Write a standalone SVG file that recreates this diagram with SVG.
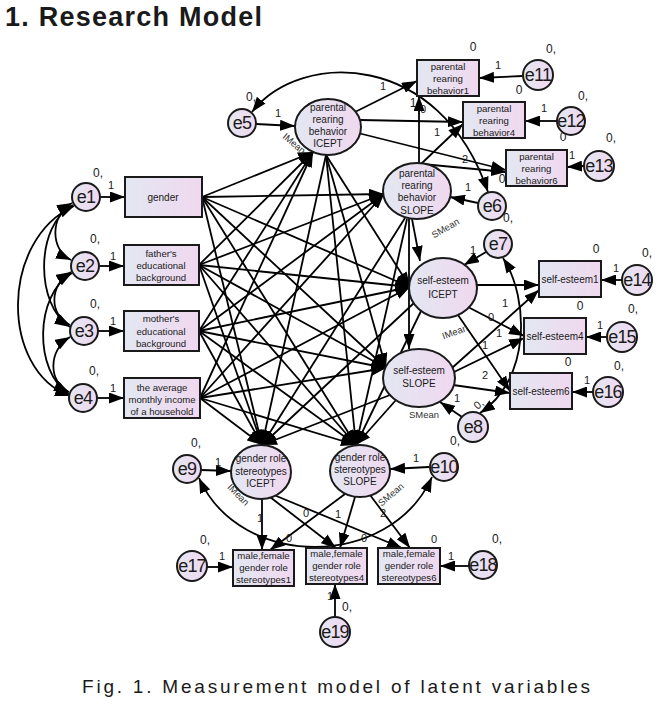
<svg xmlns="http://www.w3.org/2000/svg" width="672" height="704" viewBox="0 0 672 704">
<defs>
<linearGradient id="gf" x1="0" y1="0" x2="1" y2="0"><stop offset="0" stop-color="#e3e7f2"/><stop offset="1" stop-color="#f0d8ef"/></linearGradient>
<marker id="ah" viewBox="0 0 15 11" refX="15" refY="5.5" markerWidth="15" markerHeight="11" orient="auto-start-reverse" markerUnits="userSpaceOnUse"><path d="M0,0L15,5.5L0,11z" fill="#000"/></marker>
</defs>
<style>
text{font-family:"Liberation Sans",Arial,sans-serif;fill:#1a1a1a}
.sh{fill:url(#gf);stroke:#1a1a1a;stroke-width:2}
.c line,.c path{stroke:#000;stroke-width:1.8;fill:none;marker-end:url(#ah)}
.c path.bi{marker-start:url(#ah)}
.et{font-size:18px;text-anchor:middle;letter-spacing:-0.8px}
.nt{font-size:10px;text-anchor:middle}
.bt{font-size:9.6px;text-anchor:middle}
.lb{font-size:11px;text-anchor:middle}
.v{font-size:12px;text-anchor:middle}
.mn{font-size:9.5px;text-anchor:middle;fill:#333}
</style>
<rect width="672" height="704" fill="#fff"/>
<text x="5" y="26" font-size="27" font-weight="bold" textLength="257" lengthAdjust="spacing" fill="#000">1. Research Model</text>

<g id="connectors" class="c">
<!-- exogenous to latent -->
<line x1="202" y1="197" x2="313" y2="152"/><line x1="202" y1="197" x2="384" y2="194"/><line x1="202" y1="197" x2="410" y2="287"/><line x1="202" y1="197" x2="386" y2="368"/><line x1="202" y1="197" x2="262" y2="445"/><line x1="202" y1="197" x2="356" y2="445"/>
<line x1="199" y1="265" x2="313" y2="152"/><line x1="199" y1="265" x2="384" y2="194"/><line x1="199" y1="265" x2="410" y2="287"/><line x1="199" y1="265" x2="386" y2="368"/><line x1="199" y1="265" x2="262" y2="445"/><line x1="199" y1="265" x2="356" y2="445"/>
<line x1="199" y1="331" x2="313" y2="152"/><line x1="199" y1="331" x2="384" y2="194"/><line x1="199" y1="331" x2="410" y2="287"/><line x1="199" y1="331" x2="386" y2="368"/><line x1="199" y1="331" x2="262" y2="445"/><line x1="199" y1="331" x2="356" y2="445"/>
<line x1="200" y1="398" x2="313" y2="152"/><line x1="200" y1="398" x2="384" y2="194"/><line x1="200" y1="398" x2="410" y2="287"/><line x1="200" y1="398" x2="386" y2="368"/><line x1="200" y1="398" x2="262" y2="445"/><line x1="200" y1="398" x2="356" y2="445"/>
<!-- mediators -->
<line x1="326" y1="155" x2="410" y2="287"/><line x1="326" y1="155" x2="386" y2="368"/><line x1="326" y1="155" x2="262" y2="445"/><line x1="326" y1="155" x2="356" y2="445"/>
<line x1="409" y1="219" x2="409" y2="349"/><line x1="412" y1="219" x2="420" y2="261"/><line x1="405" y1="218" x2="262" y2="445"/><line x1="407" y1="219" x2="356" y2="445"/>
<line x1="414" y1="303" x2="262" y2="445"/><line x1="421" y1="311" x2="356" y2="445"/>
<line x1="390" y1="395" x2="262" y2="445"/><line x1="396" y1="400" x2="356" y2="445"/>
<!-- left covariances -->
<path class="bi" d="M72,203 C50,215 50,250 71,260"/>
<path class="bi" d="M71,272 C49,285 49,315 70,325"/>
<path class="bi" d="M70,337 C48,350 48,382 69,392"/>
<path class="bi" d="M73,205 C35,225 35,305 70,327"/>
<path class="bi" d="M72,273 C34,295 34,372 69,394"/>
<path class="bi" d="M74,206 C0,240 0,370 70,396"/>
<!-- e -> observed -->
<line x1="100" y1="197" x2="125" y2="197"/>
<line x1="99" y1="266" x2="124" y2="266"/>
<line x1="98" y1="331" x2="124" y2="331"/>
<line x1="97" y1="398" x2="124" y2="398"/>
<!-- parental rearing -->
<line x1="256" y1="124" x2="295" y2="126"/>
<line x1="355" y1="112" x2="417" y2="81"/>
<line x1="360" y1="120" x2="463" y2="122"/>
<line x1="358" y1="133" x2="506" y2="170"/>
<line x1="419" y1="163" x2="419" y2="96"/>
<line x1="421" y1="164" x2="463" y2="124"/>
<line x1="422" y1="164" x2="506" y2="172"/>
<line x1="523" y1="76" x2="479" y2="78"/>
<line x1="557" y1="121" x2="525" y2="121"/>
<line x1="584" y1="166" x2="567" y2="167"/>
<line x1="478" y1="203" x2="450" y2="197"/>
<path class="bi" d="M252,112 C300,50 440,50 488,192"/>
<!-- self-esteem -->
<line x1="486" y1="252" x2="464" y2="265"/>
<line x1="477" y1="285" x2="539" y2="285"/>
<line x1="468" y1="307" x2="524" y2="336"/>
<line x1="458" y1="315" x2="510" y2="391"/>
<line x1="452" y1="368" x2="539" y2="290"/>
<line x1="454" y1="372" x2="524" y2="338"/>
<line x1="453" y1="385" x2="510" y2="393"/>
<line x1="622" y1="280" x2="601" y2="280"/>
<line x1="607" y1="337" x2="586" y2="337"/>
<line x1="593" y1="392" x2="572" y2="392"/>
<line x1="462" y1="417" x2="440" y2="402"/>
<path class="bi" d="M503,258 C530,300 530,380 480,413"/>
<!-- gender role stereotypes -->
<line x1="201" y1="470" x2="231" y2="471"/>
<line x1="429" y1="467" x2="390" y2="469"/>
<line x1="262" y1="499" x2="262" y2="550"/>
<line x1="270" y1="497" x2="336" y2="548"/>
<line x1="274" y1="495" x2="402" y2="548"/>
<line x1="345" y1="494" x2="270" y2="550"/>
<line x1="355" y1="497" x2="340" y2="548"/>
<line x1="370" y1="495" x2="410" y2="548"/>
<line x1="207" y1="567" x2="233" y2="567"/>
<line x1="469" y1="566" x2="440" y2="566"/>
<line x1="335" y1="617" x2="335" y2="584"/>
<path class="bi" d="M199,478 C240,570 390,570 432,477"/>
</g>

<g id="e1"><circle class="sh" cx="86" cy="197" r="14"/><text class="et" x="86" y="203">e1</text><text class="v" x="98" y="177">0,</text><text class="lb" x="111" y="189">1</text></g>
<g id="e2"><circle class="sh" cx="85" cy="266" r="14"/><text class="et" x="85" y="272">e2</text><text class="v" x="95" y="243">0,</text><text class="lb" x="113" y="260">1</text></g>
<g id="e3"><circle class="sh" cx="84" cy="331" r="14"/><text class="et" x="84" y="337">e3</text><text class="v" x="95" y="308">0,</text><text class="lb" x="113" y="325">1</text></g>
<g id="e4"><circle class="sh" cx="83" cy="398" r="14"/><text class="et" x="83" y="404">e4</text><text class="v" x="94" y="375">0,</text><text class="lb" x="113" y="392">1</text></g>

<g id="gender"><rect class="sh" x="125" y="177" width="77" height="40"/><text class="nt" x="163" y="201" font-size="11">gender</text></g>
<g id="father"><rect class="sh" x="124" y="245" width="75" height="40"/><text class="bt" x="161" y="257">father's</text><text class="bt" x="161" y="269">educational</text><text class="bt" x="161" y="281">background</text></g>
<g id="mother"><rect class="sh" x="124" y="311" width="75" height="40"/><text class="bt" x="161" y="322">mother's</text><text class="bt" x="161" y="335">educational</text><text class="bt" x="161" y="347">background</text></g>
<g id="income"><rect class="sh" x="124" y="378" width="76" height="40"/><text class="bt" x="162" y="391">the average</text><text class="bt" x="162" y="403">monthly income</text><text class="bt" x="162" y="415">of a household</text></g>

<g id="e5"><circle class="sh" cx="242" cy="123" r="14"/><text class="et" x="242" y="129">e5</text><text class="v" x="251" y="101">0,</text><text class="lb" x="278" y="117">1</text></g>
<g id="prb-icept"><ellipse class="sh" cx="328" cy="127" rx="33" ry="28"/><text class="nt" x="328" y="111">parental</text><text class="nt" x="328" y="123">rearing</text><text class="nt" x="328" y="135">behavior</text><text class="nt" x="328" y="147">ICEPT</text><text class="mn" transform="translate(292,146) rotate(40)">IMean</text></g>
<g id="prb-slope"><ellipse class="sh" cx="417" cy="191" rx="34" ry="28"/><text class="nt" x="417" y="177">parental</text><text class="nt" x="417" y="189">rearing</text><text class="nt" x="417" y="201">behavior</text><text class="nt" x="417" y="214">SLOPE</text><text class="mn" transform="translate(447,231) rotate(-30)">SMean</text></g>
<g id="prb1"><rect class="sh" x="417" y="60" width="62" height="36"/><text class="bt" x="448" y="70">parental</text><text class="bt" x="448" y="82">rearing</text><text class="bt" x="448" y="94">behavior1</text><text class="v" x="473" y="51">0</text></g>
<g id="prb4"><rect class="sh" x="463" y="102" width="62" height="36"/><text class="bt" x="494" y="112">parental</text><text class="bt" x="494" y="124">rearing</text><text class="bt" x="494" y="136">behavior4</text><text class="v" x="519" y="94">0</text></g>
<g id="prb6"><rect class="sh" x="506" y="150" width="61" height="36"/><text class="bt" x="536.5" y="160">parental</text><text class="bt" x="536.5" y="172">rearing</text><text class="bt" x="536.5" y="184">behavior6</text><text class="v" x="563" y="141">0</text></g>
<g id="e11"><circle class="sh" cx="538" cy="75" r="15"/><text class="et" x="538" y="81">e11</text><text class="v" x="551" y="53">0,</text><text class="lb" x="498" y="69">1</text></g>
<g id="e12"><circle class="sh" cx="571" cy="121" r="14"/><text class="et" x="571" y="127">e12</text><text class="v" x="583" y="100">0,</text><text class="lb" x="544" y="112">1</text></g>
<g id="e13"><circle class="sh" cx="599" cy="166" r="15"/><text class="et" x="599" y="172">e13</text><text class="v" x="611" y="142">0,</text><text class="lb" x="572" y="159">1</text></g>
<g id="e6"><circle class="sh" cx="492" cy="206" r="14"/><text class="et" x="492" y="212">e6</text><text class="lb" x="468" y="191">1</text></g>
<g id="prb-labels"><text class="lb" x="383" y="90">1</text><text class="v" x="413" y="107">1</text><text class="lb" x="423" y="113">0</text><text class="lb" x="437" y="136">1</text><text class="lb" x="465" y="163">2</text><text class="v" x="502" y="183">0</text></g>

<g id="e7"><circle class="sh" cx="498" cy="244" r="14"/><text class="et" x="498" y="250">e7</text><text class="v" x="508" y="222">0,</text><text class="lb" x="473" y="254">1</text></g>
<g id="se-icept"><ellipse class="sh" cx="443" cy="288" rx="34" ry="30"/><text class="nt" x="443" y="284" font-size="11">self-esteem</text><text class="nt" x="443" y="298" font-size="11.5">ICEPT</text><text class="mn" transform="translate(456,335) rotate(-20)">IMean</text></g>
<g id="se-slope"><ellipse class="sh" cx="419" cy="378" rx="36" ry="29"/><text class="nt" x="419" y="374" font-size="11">self-esteem</text><text class="nt" x="419" y="387" font-size="11.5">SLOPE</text><text class="mn" x="424" y="418">SMean</text></g>
<g id="se1"><rect class="sh" x="539" y="261" width="62" height="36"/><text class="nt" x="570" y="283">self-esteem1</text><text class="v" x="596" y="253">0</text></g>
<g id="se4"><rect class="sh" x="524" y="318" width="62" height="36"/><text class="nt" x="555" y="340">self-esteem4</text><text class="v" x="580" y="310">0</text></g>
<g id="se6"><rect class="sh" x="510" y="373" width="62" height="36"/><text class="nt" x="541" y="395">self-esteem6</text><text class="v" x="568" y="366">0</text></g>
<g id="e14"><circle class="sh" cx="637" cy="280" r="15"/><text class="et" x="637" y="286">e14</text><text class="v" x="647" y="257">0,</text><text class="lb" x="616" y="272">1</text></g>
<g id="e15"><circle class="sh" cx="622" cy="337" r="15"/><text class="et" x="622" y="343">e15</text><text class="v" x="633" y="313">0,</text><text class="lb" x="600" y="329">1</text></g>
<g id="e16"><circle class="sh" cx="608" cy="392" r="15"/><text class="et" x="608" y="398">e16</text><text class="v" x="619" y="370">0,</text><text class="lb" x="587" y="384">1</text></g>
<g id="e8"><circle class="sh" cx="473" cy="427" r="15"/><text class="et" x="473" y="433">e8</text><text class="v" x="455" y="445">0,</text><text class="lb" x="457" y="402">1</text></g>
<g id="se-labels"><text class="lb" x="505" y="307">1</text><text class="lb" x="491" y="321">0</text><text class="lb" x="499" y="337">1</text><text class="lb" x="485" y="349">1</text><text class="lb" x="485" y="379">2</text><text class="lb" transform="translate(481,407) rotate(-40)">0,</text></g>

<g id="e9"><circle class="sh" cx="187" cy="469" r="14"/><text class="et" x="187" y="475">e9</text><text class="v" x="196" y="447">0,</text><text class="lb" x="218" y="466">1</text></g>
<g id="e10"><circle class="sh" cx="444" cy="467" r="14"/><text class="et" x="444" y="473">e10</text><text class="lb" x="416" y="462">1</text></g>
<g id="grs-icept"><ellipse class="sh" cx="261" cy="472" rx="30" ry="27"/><text class="nt" x="261" y="462">gender role</text><text class="nt" x="261" y="475">stereotypes</text><text class="nt" x="261" y="487">ICEPT</text><text class="mn" transform="translate(236,497) rotate(45)">IMean</text></g>
<g id="grs-slope"><ellipse class="sh" cx="360" cy="471" rx="30" ry="26"/><text class="nt" x="360" y="461">gender role</text><text class="nt" x="360" y="473">stereotypes</text><text class="nt" x="360" y="485">SLOPE</text><text class="mn" transform="translate(393,497) rotate(-40)">SMean</text></g>
<g id="st1"><rect class="sh" x="233" y="550" width="61" height="36"/><text class="bt" x="263.5" y="559">male,female</text><text class="bt" x="263.5" y="571">gender role</text><text class="bt" x="263.5" y="583">stereotypes1</text></g>
<g id="st4"><rect class="sh" x="306" y="548" width="61" height="36"/><text class="bt" x="336.5" y="557">male,female</text><text class="bt" x="336.5" y="569">gender role</text><text class="bt" x="336.5" y="581">stereotypes4</text></g>
<g id="st6"><rect class="sh" x="378" y="548" width="62" height="36"/><text class="bt" x="409" y="557">male,female</text><text class="bt" x="409" y="569">gender role</text><text class="bt" x="409" y="581">stereotypes6</text></g>
<g id="e17"><circle class="sh" cx="192" cy="566" r="15"/><text class="et" x="192" y="572">e17</text><text class="v" x="205" y="544">0,</text><text class="lb" x="222" y="560">1</text></g>
<g id="e18"><circle class="sh" cx="483" cy="565" r="14"/><text class="et" x="483" y="571">e18</text><text class="v" x="497" y="543">0,</text><text class="lb" x="451" y="560">1</text></g>
<g id="e19"><circle class="sh" cx="335" cy="632" r="15"/><text class="et" x="335" y="638">e19</text><text class="v" x="347" y="611">0,</text><text class="lb" x="330" y="600">1</text></g>
<g id="grs-labels"><text class="lb" x="260" y="522">1</text><text class="lb" x="306" y="517">0</text><text class="lb" x="338" y="518">1</text><text class="lb" x="383" y="517">2</text><text class="lb" x="289" y="542">0</text><text class="lb" x="364" y="542">0</text><text class="lb" x="434" y="543">0</text></g>

<text x="82" y="693" font-size="19" textLength="508" lengthAdjust="spacing" fill="#222">Fig. 1. Measurement model of latent variables</text>
</svg>
